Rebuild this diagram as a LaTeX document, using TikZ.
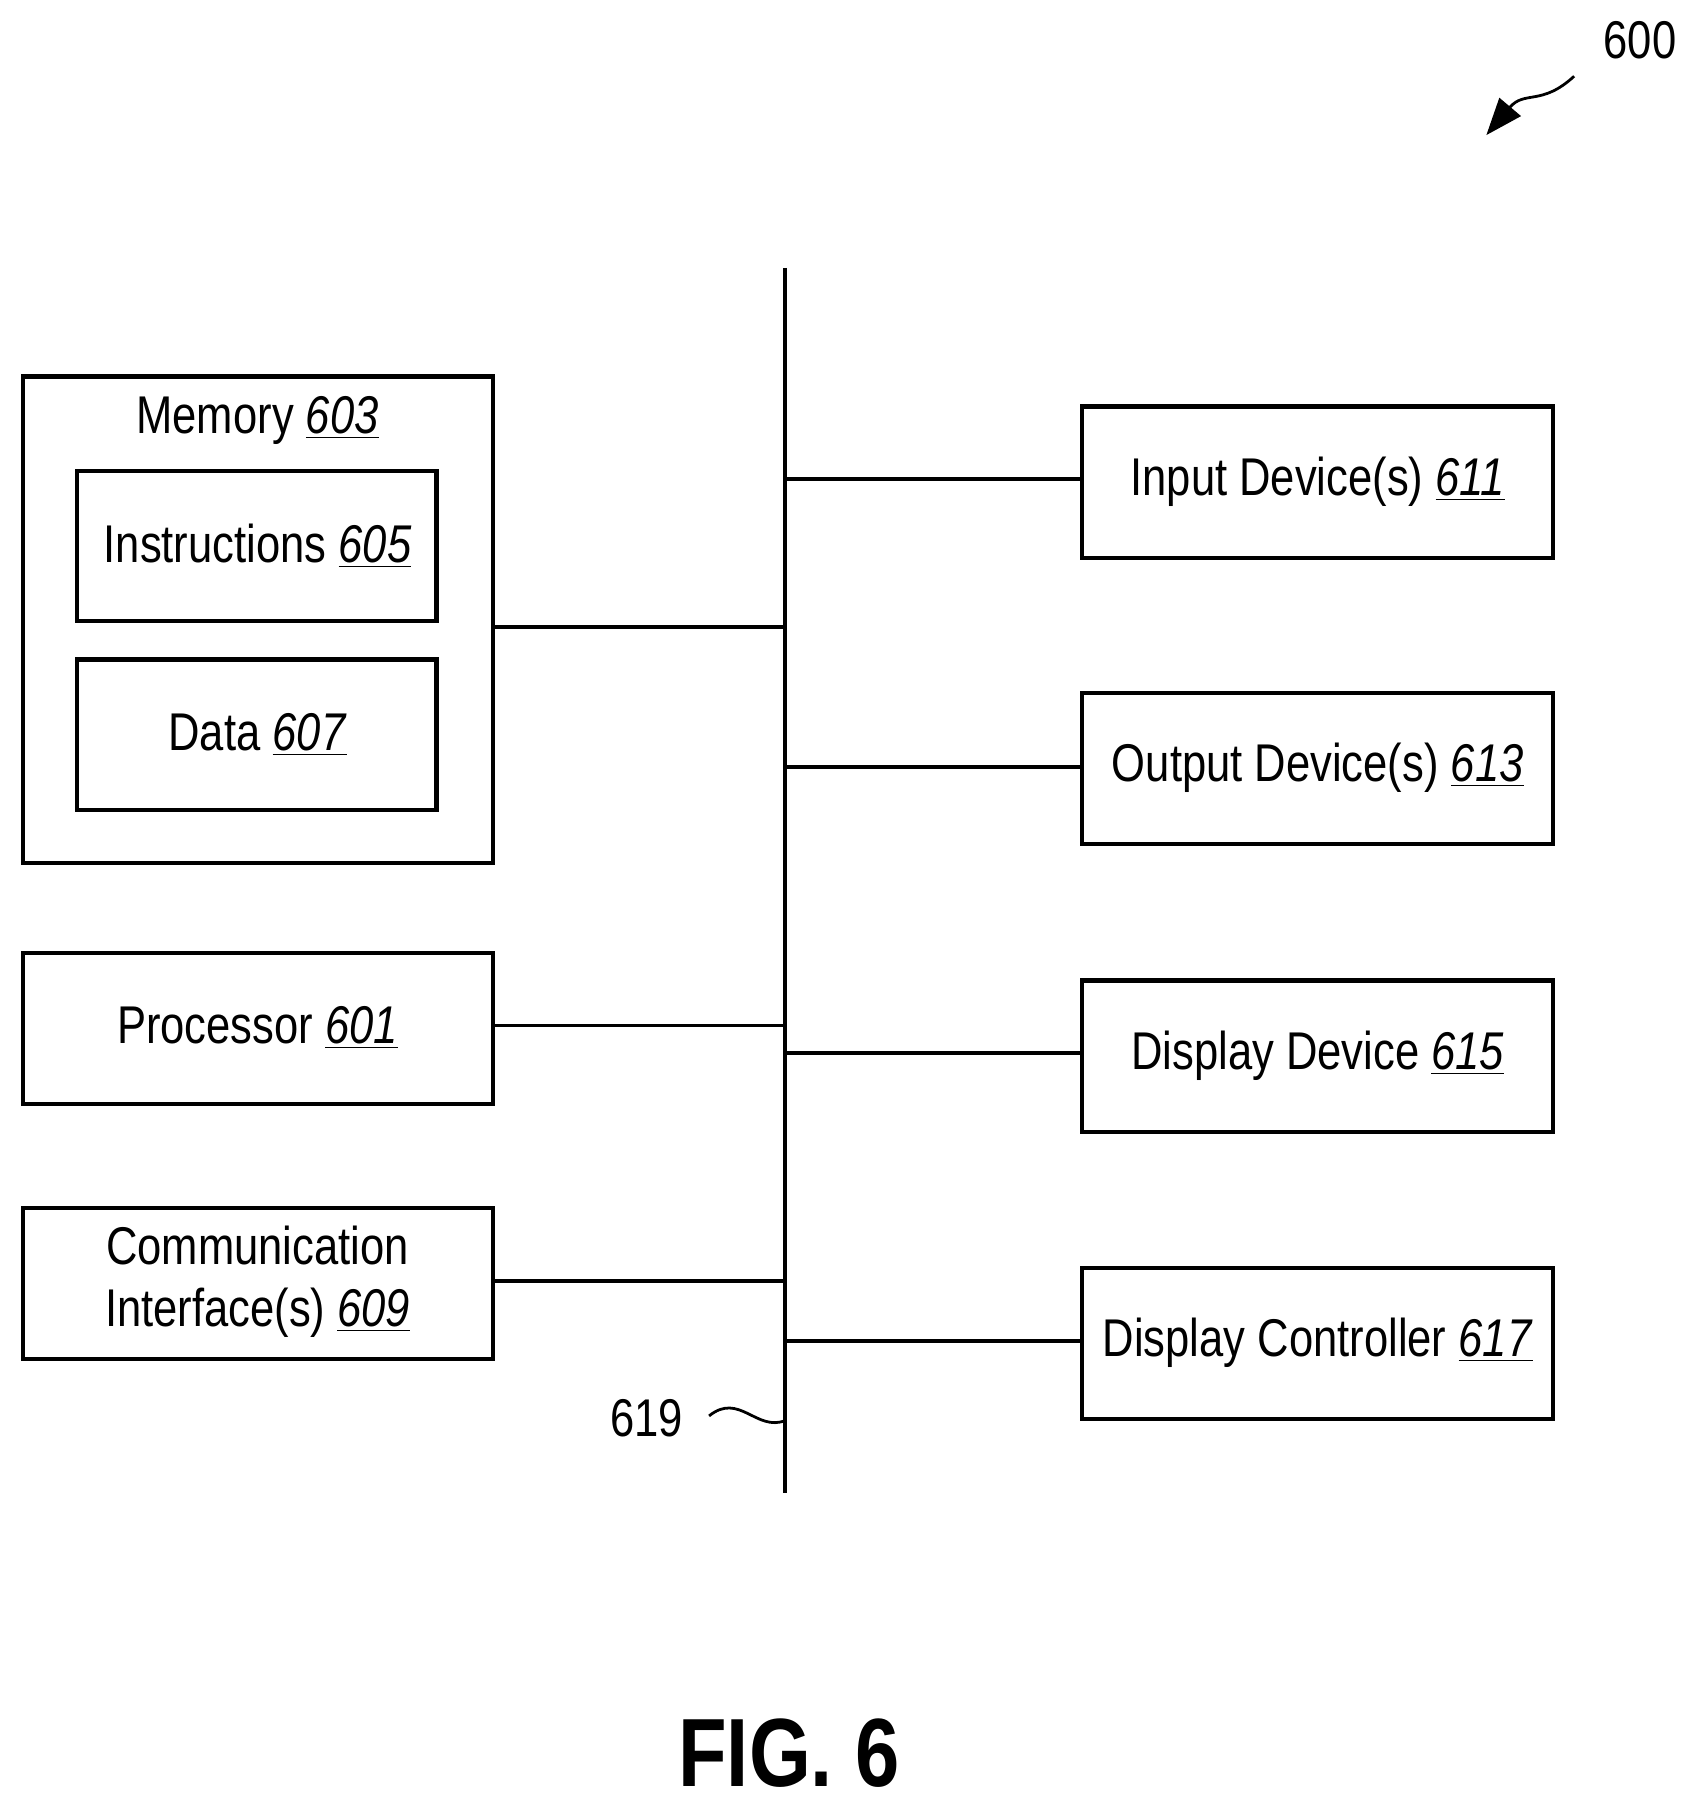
\documentclass[tikz,border=0pt]{standalone}
\usepackage{fontspec}
\setmainfont{Liberation Sans}[FakeStretch=0.82]
\usetikzlibrary{arrows.meta}
\newcommand{\rn}[1]{\underline{\textit{#1}}}
\begin{document}
\begin{tikzpicture}[x=0.5pt,y=-0.5pt,
  box/.style={draw,line width=1.8pt,inner sep=0pt},
  ln/.style={line width=1.6pt},
  txt/.style={font=\fontsize{23}{27}\selectfont,align=center}]
\useasboundingbox (0,0) rectangle (1466,1569);
% boxes
\draw[box] (20,326) rectangle (427,747);
\node[txt] (mem) at (223,364) {Memory \rn{603}};
\draw[box] (67,408) rectangle (378,538); \node[txt] (ins) at (223,473) {Instructions \rn{605}};
\draw[box] (67,571) rectangle (378,701); \node[txt] (dat) at (223,636) {Data \rn{607}};
\draw[box] (20,825) rectangle (427,956); \node[txt] (pro) at (223,890) {Processor \rn{601}};
\draw[box] (20,1046) rectangle (427,1177); \node[txt] (com) at (223,1110) {Communication\\Interface(s) \rn{609}};
\draw[box] (937,352) rectangle (1345,483); \node[txt] (inp) at (1141,417) {Input Device(s) \rn{611}};
\draw[box] (937,600) rectangle (1345,731); \node[txt] (out) at (1141,665) {Output Device(s) \rn{613}};
\draw[box] (937,849) rectangle (1345,980); \node[txt] (dis) at (1141,914) {Display Device \rn{615}};
\draw[box] (937,1098) rectangle (1345,1229); \node[txt] (ctl) at (1141,1163) {Display Controller \rn{617}};
% bus
\coordinate (bt) at (680,232); \coordinate (bb) at (680,1293);
\draw[ln] (bt) -- (bb);
\draw[ln] (427,543) -- (680,543);
\draw[ln] (427,888) -- (680,888);
\draw[ln] (427,1109) -- (680,1109);
\draw[ln] (680,415) -- (937,415);
\draw[ln] (680,664) -- (937,664);
\draw[ln] (680,912) -- (937,912);
\draw[ln] (680,1161) -- (937,1161);
% labels
\node[txt] (l619) at (560,1228) {619};
\draw[line width=1.2pt] (614,1226) .. controls (640,1205) and (655,1240) .. (680,1230);
\node[txt] (l600) at (1420,35) {600};
\draw[line width=1.2pt,-{Triangle[length=16pt,width=12pt]}] (1363,66) .. controls (1335,92) and (1320,78) .. (1287,117);
\node[font=\bfseries\fontsize{42}{46}\selectfont] (fig) at (683,1518) {FIG. 6};
\end{tikzpicture}
\end{document}
